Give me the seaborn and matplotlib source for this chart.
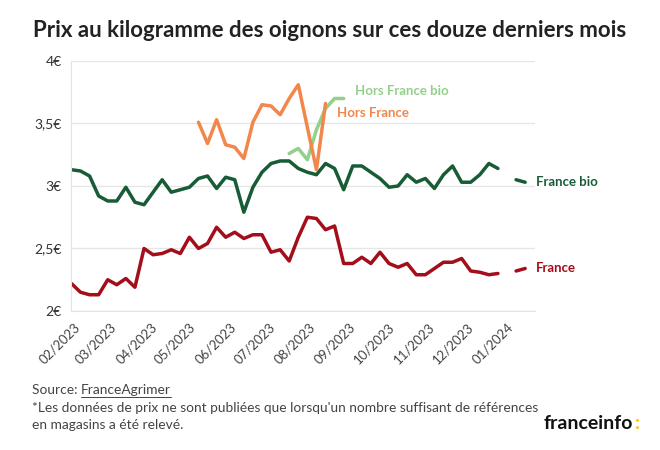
import numpy as np
import pandas as pd
import matplotlib
matplotlib.use("Agg")
import matplotlib.pyplot as plt
import seaborn as sns

nan = np.nan

# weekly prices (€/kg), one point per week starting Monday 30/01/2023
weeks = pd.date_range("2023-01-30", periods=51, freq="7D")

france = [2.22, 2.15, 2.13, 2.13, 2.25, 2.21, 2.26, 2.19, 2.50, 2.45,
          2.46, 2.49, 2.46, 2.59, 2.50, 2.54, 2.67, 2.59, 2.63, 2.58,
          2.61, 2.61, 2.47, 2.49, 2.40, 2.59, 2.75, 2.74, 2.65, 2.68,
          2.38, 2.38, 2.43, 2.38, 2.47, 2.38, 2.35, 2.38, 2.29, 2.29,
          2.34, 2.39, 2.39, 2.42, 2.32, 2.31, 2.29, 2.30, nan, 2.32,
          2.34]

france_bio = [3.13, 3.12, 3.08, 2.92, 2.88, 2.88, 2.99, 2.87, 2.85, 2.95,
              3.05, 2.95, 2.97, 2.99, 3.06, 3.08, 2.98, 3.07, 3.05, 2.79,
              2.99, 3.11, 3.18, 3.20, 3.20, 3.14, 3.11, 3.09, 3.18, 3.14,
              2.97, 3.16, 3.16, 3.11, 3.06, 2.99, 3.00, 3.09, 3.03, 3.06,
              2.98, 3.09, 3.16, 3.03, 3.03, 3.09, 3.18, 3.14, nan, 3.05,
              3.03]

hors_france = [nan] * 14 + [3.51, 3.34, 3.53, 3.33, 3.31, 3.22, 3.51, 3.65,
                            3.64, 3.57, 3.70, 3.81, 3.47, 3.13, 3.66] + [nan] * 22

hors_france_bio = [nan] * 24 + [3.26, 3.30, 3.21, 3.45, 3.62, 3.70, 3.70] + [nan] * 20

series_names = ["France", "France bio", "Hors France bio", "Hors France"]
series_values = [france, france_bio, hors_france_bio, hors_france]
series_colors = ["#a30e1a", "#175c36", "#93d08b", "#f2874c"]
label_offsets = [(8, 0), (8, 0), (8, 5.5), (8, -6.5)]

month_ticks = pd.date_range("2023-02-01", "2024-01-01", freq="MS")
y_ticks = [2, 2.5, 3, 3.5, 4]
y_labels = ["2€", "2,5€", "3€", "3,5€", "4€"]

sns.set_style("white")
plt.rcParams["font.family"] = ["Lato", "DejaVu Sans"]

fig = plt.figure(figsize=(6.6, 4.5), dpi=100)
ax = fig.add_axes([0.1082, 0.3089, 0.7024, 0.5556])

for name, values, color, offset in zip(series_names, series_values, series_colors, label_offsets):
    df = pd.DataFrame({"date": weeks, "prix": values})
    ok = df["prix"].notna()
    seg = (~ok).cumsum()
    for _, part in df[ok].groupby(seg[ok]):
        if len(part) > 1:
            sns.lineplot(data=part, x="date", y="prix", color=color, lw=2.5, ax=ax,
                         solid_capstyle="round", solid_joinstyle="round")
    last = df[ok].iloc[-1]
    ax.annotate(name, xy=(last["date"], last["prix"]), xytext=offset,
                textcoords="offset points", ha="left", va="center",
                color=color, fontsize=9.5, fontweight="bold")

ax.set_xlim(pd.Timestamp("2023-01-30"), pd.Timestamp("2024-01-22 14:00"))
ax.set_ylim(2, 4)
ax.set_xticks(month_ticks)
ax.set_xticklabels([d.strftime("%m/%Y") for d in month_ticks], rotation=45,
                   ha="right", rotation_mode="anchor", fontsize=9.5, color="#444444")
ax.set_yticks(y_ticks)
ax.set_yticklabels(y_labels, fontsize=10, color="#333333")
ax.set_xlabel("")
ax.set_ylabel("")
ax.grid(axis="y", color="#e6e6e6", lw=1)
ax.set_axisbelow(True)
for side in ["top", "right"]:
    ax.spines[side].set_visible(False)
for side in ["left", "bottom"]:
    ax.spines[side].set_color("#e3e3e3")
ax.tick_params(axis="both", length=4, color="#dddddd", pad=3)

fig.text(0.5, 0.932, "Prix au kilogramme des oignons sur ces douze derniers mois",
         ha="center", va="center", fontsize=16, fontweight="bold", color="#222222")

# footer
foot_size = 9.9
src = fig.text(0.048, 0.124, "Source: ", fontsize=foot_size, color="#444444", va="baseline")
fig.canvas.draw()
r = fig.canvas.get_renderer()
bb = src.get_window_extent(r)
link = fig.text(bb.x1 / 660, 0.124, "FranceAgrimer", fontsize=foot_size, color="#444444", va="baseline")
fig.canvas.draw()
lb = link.get_window_extent(r)
fig.add_artist(plt.Line2D([lb.x0 / 660, lb.x1 / 660], [0.124 - 0.007, 0.124 - 0.007],
                          color="#444444", lw=0.7))
fig.text(0.048, 0.084, "*Les données de prix ne sont publiées que lorsqu'un nombre suffisant de références",
         fontsize=foot_size, color="#444444", va="baseline")
fig.text(0.048, 0.046, "en magasins a été relevé.", fontsize=foot_size, color="#444444", va="baseline")

logo = fig.text(0.824, 0.046, "franceinfo", fontsize=14, fontweight="bold",
                color="#111111", va="baseline")
fig.canvas.draw()
gb = logo.get_window_extent(r)
fig.text(gb.x1 / 660 + 0.002, 0.046, ":", fontsize=14, fontweight="bold",
         color="#ffc400", va="baseline")

fig.savefig("out.png", dpi=100)
plt.close(fig)
